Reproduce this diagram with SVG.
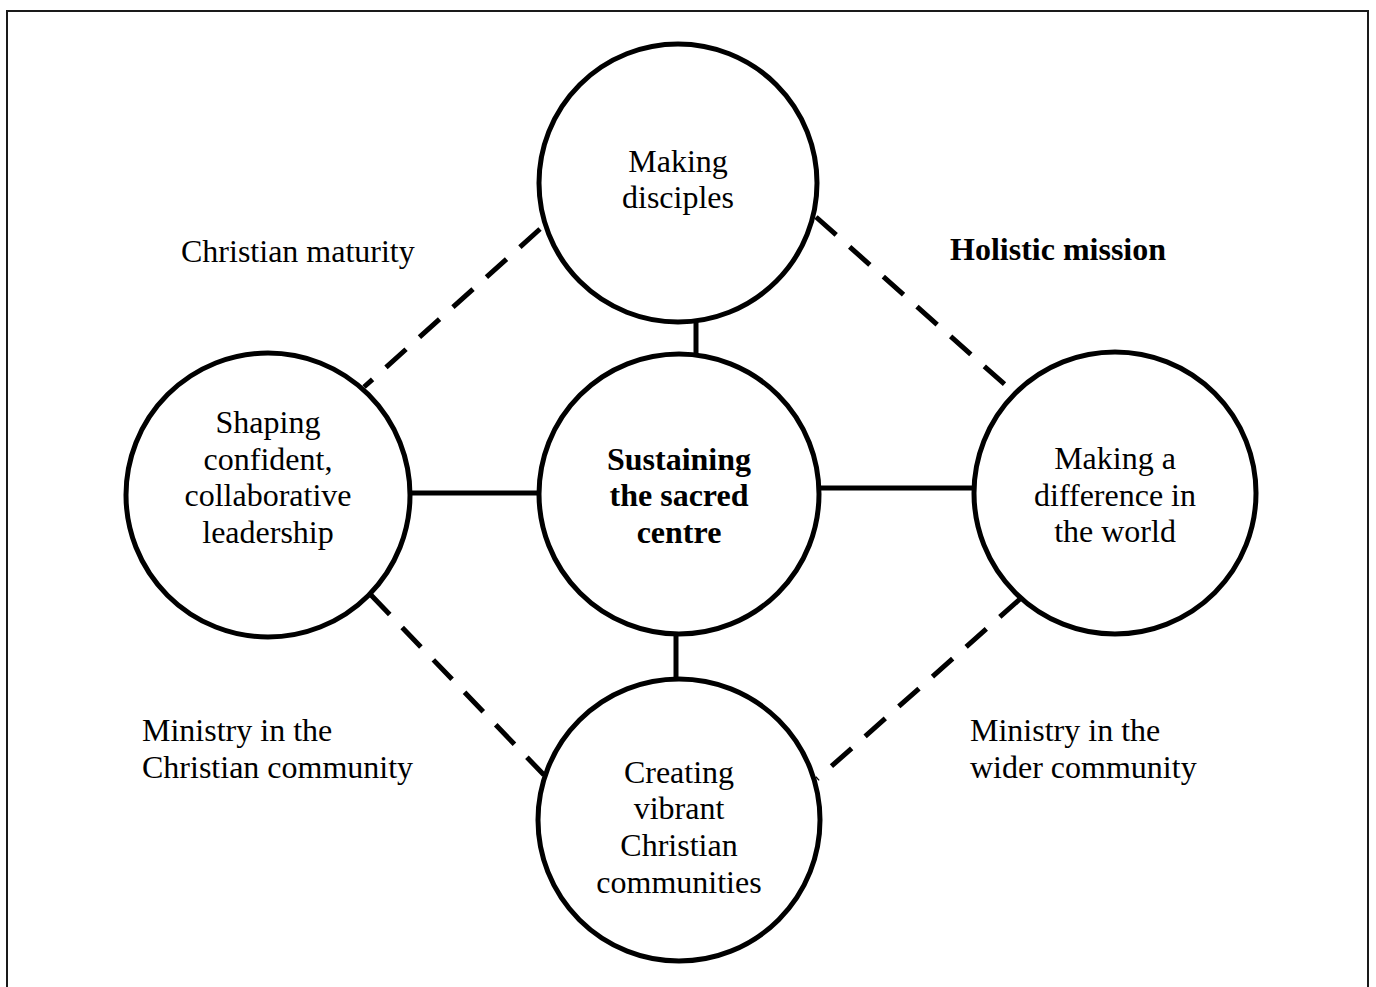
<svg xmlns="http://www.w3.org/2000/svg" width="1376" height="987" viewBox="0 0 1376 987">
<style>
.node circle{fill:#fff;stroke:#000;stroke-width:5}
.t{font-family:"Liberation Serif","Times New Roman",serif;font-size:32px;fill:#000;text-anchor:middle}
.l{font-family:"Liberation Serif","Times New Roman",serif;font-size:32px;fill:#000}
.b{font-weight:bold}
.solid{stroke:#000;stroke-width:5;fill:none}
.dash{stroke:#000;stroke-width:5;fill:none;stroke-dasharray:27 18}
</style>
<rect x="0" y="0" width="1376" height="987" fill="#fff"/>
<rect x="7" y="11" width="1361" height="1000" fill="none" stroke="#1a1a1a" stroke-width="2"/>
<g id="connectors">
<line class="solid" x1="696" y1="321" x2="696" y2="356"/>
<line class="solid" x1="406" y1="493" x2="540" y2="493"/>
<line class="solid" x1="819" y1="488" x2="975" y2="488"/>
<line class="solid" x1="676" y1="633" x2="676" y2="681"/>
<line class="dash" x1="540" y1="229" x2="364" y2="387"/>
<line class="dash" x1="816" y1="217" x2="1011" y2="390"/>
<line class="dash" x1="371" y1="595" x2="544" y2="775"/>
<line class="dash" x1="1020" y1="599" x2="817" y2="779"/>
</g>
<g id="node-top" class="node">
<circle cx="678" cy="183" r="139"/>
<text class="t" x="678" y="172">Making</text>
<text class="t" x="678" y="208">disciples</text>
</g>
<g id="node-centre" class="node">
<circle cx="679" cy="494" r="140"/>
<text class="t b" x="679" y="470">Sustaining</text>
<text class="t b" x="679" y="506">the sacred</text>
<text class="t b" x="679" y="543">centre</text>
</g>
<g id="node-left" class="node">
<circle cx="268" cy="495" r="142"/>
<text class="t" x="268" y="433">Shaping</text>
<text class="t" x="268" y="470">confident,</text>
<text class="t" x="268" y="506">collaborative</text>
<text class="t" x="268" y="543">leadership</text>
</g>
<g id="node-right" class="node">
<circle cx="1115" cy="493" r="141"/>
<text class="t" x="1115" y="469">Making a</text>
<text class="t" x="1115" y="506">difference in</text>
<text class="t" x="1115" y="542">the world</text>
</g>
<g id="node-bottom" class="node">
<circle cx="679" cy="820" r="141"/>
<text class="t" x="679" y="783">Creating</text>
<text class="t" x="679" y="819">vibrant</text>
<text class="t" x="679" y="856">Christian</text>
<text class="t" x="679" y="893">communities</text>
</g>
<g id="labels">
<text class="l" x="181" y="262">Christian maturity</text>
<text class="l b" x="950" y="260">Holistic mission</text>
<text class="l" x="142" y="741">Ministry in the</text>
<text class="l" x="142" y="778">Christian community</text>
<text class="l" x="970" y="741">Ministry in the</text>
<text class="l" x="970" y="778">wider community</text>
</g>
</svg>
